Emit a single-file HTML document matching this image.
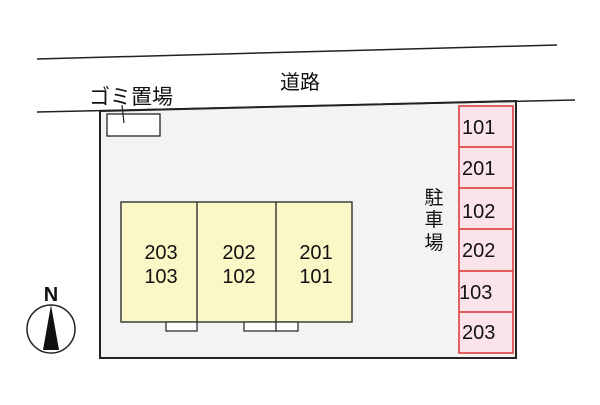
<!DOCTYPE html>
<html><head><meta charset="utf-8"><style>
body{margin:0;background:#fff;width:600px;height:400px;overflow:hidden}
svg text{font-family:"Liberation Sans","Noto Sans CJK JP",sans-serif;fill:#111}
</style></head><body>
<svg width="600" height="400" viewBox="0 0 600 400">
<line x1="37" y1="59" x2="557" y2="45" stroke="#222" stroke-width="1.5"/>
<polygon points="100,111 516,101 516,358 100,358" fill="#f3f3f3" stroke="#222" stroke-width="2"/>
<line x1="37" y1="112" x2="575" y2="100" stroke="#222" stroke-width="1.5"/>
<text x="300" y="89" font-size="20" text-anchor="middle">道路</text>
<text x="131" y="104" font-size="21" text-anchor="middle">ゴミ置場</text>
<rect x="107" y="114" width="53" height="22" fill="#fff" stroke="#222" stroke-width="1.3"/>
<line x1="122" y1="105" x2="124" y2="123" stroke="#222" stroke-width="1.2"/>
<rect x="459" y="106" width="54" height="247" fill="#fbe3ea" stroke="#d33" stroke-width="1.5"/>
<g stroke="#d33" stroke-width="1.5">
<line x1="459" y1="147" x2="513" y2="147"/><line x1="459" y1="188" x2="513" y2="188"/>
<line x1="459" y1="229" x2="513" y2="229"/><line x1="459" y1="271" x2="513" y2="271"/>
<line x1="459" y1="312" x2="513" y2="312"/></g>
<g font-size="20">
<text x="462" y="134">101</text><text x="462" y="175">201</text><text x="462" y="218">102</text>
<text x="462" y="257">202</text><text x="459" y="299">103</text><text x="462" y="339">203</text></g>
<g font-size="19" text-anchor="middle"><text x="434" y="204">駐</text><text x="434" y="226">車</text><text x="434" y="249">場</text></g>
<rect x="121" y="202" width="231" height="120" fill="#fbf8c8" stroke="#222" stroke-width="1.3"/>
<line x1="197" y1="202" x2="197" y2="322" stroke="#222" stroke-width="1.3"/>
<line x1="276" y1="202" x2="276" y2="322" stroke="#222" stroke-width="1.3"/>
<g fill="#fff" stroke="#222" stroke-width="1.2">
<rect x="166" y="322" width="31" height="9"/><rect x="244" y="322" width="32" height="9"/><rect x="276" y="322" width="22" height="9"/></g>
<g font-size="20" text-anchor="middle">
<text x="161" y="259">203</text><text x="161" y="283">103</text>
<text x="239" y="259">202</text><text x="239" y="283">102</text>
<text x="316" y="259">201</text><text x="316" y="283">101</text></g>
<text x="51" y="301" font-size="20" font-weight="bold" text-anchor="middle">N</text>
<ellipse cx="51" cy="329" rx="24" ry="24" fill="#fff" stroke="#222" stroke-width="1.5"/>
<polygon points="51,305 43,350 59,350" fill="#111"/>
</svg>
</body></html>
